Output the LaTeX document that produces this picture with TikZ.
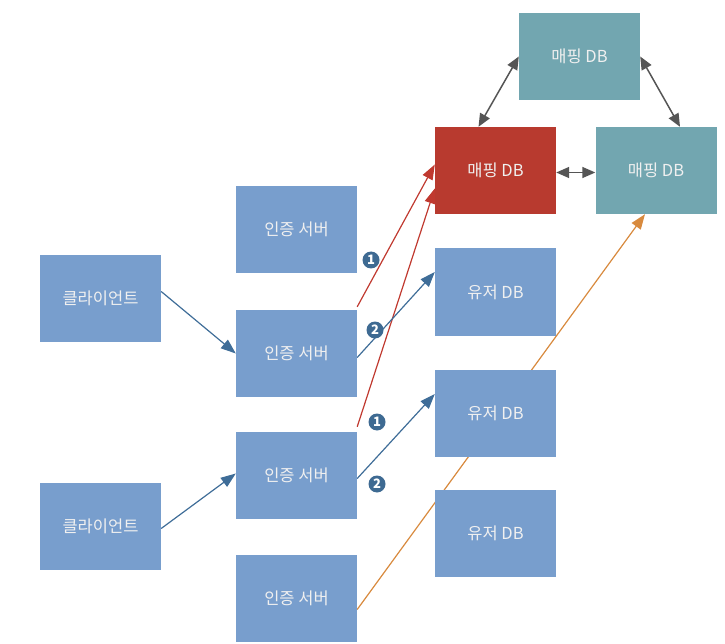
\documentclass[tikz,border=0pt]{standalone}
\usepackage{fontspec}
\setmainfont{Noto Sans CJK KR}
\usetikzlibrary{arrows.meta}
\pgfdeclarelayer{bg}
\pgfsetlayers{bg,main}
\definecolor{boxblue}{HTML}{789ECD}
\definecolor{boxred}{HTML}{B83A2F}
\definecolor{boxteal}{HTML}{72A6B0}
\definecolor{arrblue}{HTML}{3F6D98}
\definecolor{arrred}{HTML}{C0392F}
\definecolor{arrorange}{HTML}{D88A3E}
\definecolor{arrgray}{HTML}{555555}
\definecolor{numblue}{HTML}{3E6A92}
\begin{document}
\begin{tikzpicture}[x=1pt,y=-1pt,
  box/.style={minimum width=121pt,minimum height=87pt,inner sep=0pt,text=white!94!black,font=\fontsize{16.5}{18}\selectfont},
  bluebox/.style={box,fill=boxblue},
  redbox/.style={box,fill=boxred},
  tealbox/.style={box,fill=boxteal},
  bluearr/.style={draw=arrblue,line width=1.2pt,-{Triangle[length=15pt,width=11pt]}},
  redarr/.style={draw=arrred,line width=1.2pt,-{Triangle[length=15pt,width=11pt]}},
  orarr/.style={draw=arrorange,line width=1.2pt,-{Triangle[length=15pt,width=11pt]}},
  grayarr/.style={draw=arrgray,line width=1.5pt,{Triangle[length=13pt,width=11pt]}-{Triangle[length=13pt,width=11pt]}},
  num/.style={circle,fill=numblue,text=white,inner sep=0pt,minimum size=17pt,font=\fontsize{13}{13}\selectfont\bfseries}
]
\useasboundingbox (0,0) rectangle (725,644);
% mapping DBs
\node[tealbox] (mt) at (579.5,56.5) {매핑 DB};
\node[redbox] (mr) at (495.5,170.5) {매핑 DB};
\node[tealbox] (m2) at (656,170.5) {매핑 DB};
% user DBs
\node[bluebox] (u1) at (495.5,292) {유저 DB};
\node[bluebox] (u2) at (495.5,413) {유저 DB};
\node[bluebox] (u3) at (495.5,533.5) {유저 DB};
% auth servers
\node[bluebox] (a1) at (296.5,229.5) {인증 서버};
\node[bluebox] (a2) at (296.5,353.5) {인증 서버};
\node[bluebox] (a3) at (296.5,475.5) {인증 서버};
\node[bluebox] (a4) at (296.5,598.5) {인증 서버};
% clients
\node[bluebox] (c1) at (100.5,298.5) {클라이언트};
\node[bluebox] (c2) at (100.5,526.5) {클라이언트};
% connectors
\begin{pgfonlayer}{bg}
\draw[bluearr] ([yshift=7pt]c1.east) -- (a2.west);
\draw[bluearr] ([yshift=-2pt]c2.east) -- ([yshift=2pt]a3.west);
\draw[redarr] ([yshift=3pt]a2.north east) -- ([yshift=6pt]mr.west);
\draw[redarr] ([yshift=5pt]a3.north east) -- ([yshift=-18pt]mr.west);
\draw[bluearr] ([yshift=-4pt]a2.east) -- ([yshift=20pt]u1.west);
\draw[bluearr] ([yshift=-3pt]a3.east) -- ([yshift=19pt]u2.west);
\draw[orarr] ([yshift=-11pt]a4.east) -- ([xshift=-11pt]m2.south);
\draw[grayarr] (mt.west) -- ([xshift=-17pt]mr.north);
\draw[grayarr] (mt.east) -- ([xshift=24pt]m2.north);
\draw[grayarr] ([yshift=-2pt]mr.east) -- ([yshift=-2pt]m2.west);
\end{pgfonlayer}
% step numbers
\node[num] (n1) at (371,260) {1};
\node[num] (n2) at (375,330) {2};
\node[num] (n3) at (377,422) {1};
\node[num] (n4) at (377,484) {2};
\end{tikzpicture}
\end{document}
